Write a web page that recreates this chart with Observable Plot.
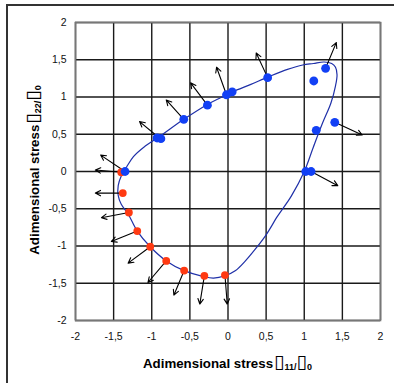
<!DOCTYPE html>
<html>
<head>
<meta charset="utf-8">
<script src="https://cdn.jsdelivr.net/npm/d3@7"></script>
<script src="https://cdn.jsdelivr.net/npm/@observablehq/plot@0.6"></script>
<style>
  html, body { margin: 0; padding: 0; background: #fff; }
  #wrap { position: relative; width: 394px; height: 383px; overflow: hidden; }
  #frame { position: absolute; left: 6px; top: 4px; width: 600px; height: 600px;
           border-left: 2px solid #333; border-top: 2px solid #333; }
  #chart { position: absolute; left: 0; top: 0; }
</style>
</head>
<body>
<div id="wrap"><div id="frame"></div><div id="chart"></div></div>
<script>
// ---- data ----
const ticks = [-2, -1.5, -1, -0.5, 0, 0.5, 1, 1.5, 2];

const blueX = [-1.35, -0.93, -0.88, -0.58, -0.27, -0.02, 0.055, 0.52, 1.28, 1.125, 1.40, 1.157, 1.02, 1.09];
const blueY = [0.00, 0.45, 0.44, 0.70, 0.89, 1.03, 1.07, 1.26, 1.385, 1.215, 0.66, 0.553, 0.00, 0.00];

const redX = [-1.40, -1.38, -1.30, -1.19, -1.02, -0.81, -0.575, -0.31, -0.04];
const redY = [-0.01, -0.29, -0.55, -0.80, -1.01, -1.20, -1.33, -1.40, -1.39];

// arrows: start (point) and tip
const arrowX1 = [-1.40, -1.38, -1.30, -1.19, -1.02, -0.81, -0.575, -0.31, -0.04,
                 -1.35, -0.90, -0.58, -0.27, -0.02, 0.52, 1.28, 1.40, 1.09];
const arrowY1 = [-0.01, -0.29, -0.55, -0.80, -1.01, -1.20, -1.33, -1.40, -1.39,
                 0.00, 0.45, 0.70, 0.89, 1.03, 1.26, 1.385, 0.66, 0.00];
const arrowX2 = [-1.74, -1.74, -1.66, -1.53, -1.31, -1.05, -0.71, -0.37, -0.01,
                 -1.67, -1.16, -0.81, -0.49, -0.15, 0.37, 1.42, 1.76, 1.44];
const arrowY2 = [0.02, -0.29, -0.62, -0.94, -1.23, -1.49, -1.66, -1.78, -1.78,
                 0.22, 0.67, 0.96, 1.19, 1.40, 1.59, 1.73, 0.49, -0.19];

// closed yield-like curve
const curveX = [-0.19, -0.04, 0.10, 0.22, 0.36, 0.50, 0.65, 0.83, 1.00, 1.12, 1.24, 1.35, 1.41, 1.43, 1.41, 1.36, 1.26, 1.12, 0.98, 0.78, 0.53, 0.30, 0.06, -0.10, -0.27, -0.58, -0.91, -1.10, -1.24, -1.33, -1.40, -1.44, -1.44, -1.40, -1.31, -1.19, -1.02, -0.81, -0.575, -0.32];
const curveY = [-1.43, -1.40, -1.33, -1.21, -1.04, -0.85, -0.60, -0.33, 0.00, 0.33, 0.65, 0.92, 1.15, 1.30, 1.40, 1.45, 1.47, 1.45, 1.43, 1.37, 1.27, 1.17, 1.07, 0.99, 0.90, 0.70, 0.46, 0.33, 0.20, 0.06, -0.06, -0.19, -0.32, -0.44, -0.57, -0.80, -1.01, -1.20, -1.33, -1.41];

// ---- build tables ----
const blue = blueX.map((x, i) => ({x, y: blueY[i]}));
const red = redX.map((x, i) => ({x, y: redY[i]}));
const arrows = arrowX1.map((x1, i) => ({x1, y1: arrowY1[i], x2: arrowX2[i], y2: arrowY2[i]}));
const curve = curveX.map((x, i) => ({x, y: curveY[i]}));

const fmt = d => String(d).replace(".", ",");

const svg = Plot.plot({
  width: 394,
  height: 383,
  marginLeft: 75,
  marginRight: 14,
  marginTop: 22,
  marginBottom: 63,
  style: {fontFamily: "'Liberation Sans', Arial, sans-serif", fontSize: "10.5px", color: "#111", background: "transparent", overflow: "visible"},
  x: {domain: [-2, 2]},
  y: {domain: [-2, 2]},
  marks: [
    Plot.gridX(ticks, {stroke: "#1a1a1a", strokeWidth: 1.4, strokeOpacity: 1}),
    Plot.gridY(ticks, {stroke: "#1a1a1a", strokeWidth: 1.4, strokeOpacity: 1}),
    Plot.frame({stroke: "#777", strokeWidth: 1.6}),
    Plot.axisX({ticks, tickFormat: fmt, tickSize: 0, tickPadding: 12, label: null}),
    Plot.axisY({ticks, tickFormat: fmt, tickSize: 0, tickPadding: 9, label: null}),
    Plot.line(curve, {x: "x", y: "y", curve: "catmull-rom-closed", stroke: "#1f30a8", strokeWidth: 1.2}),
    Plot.arrow(arrows, {x1: "x1", y1: "y1", x2: "x2", y2: "y2", stroke: "#000", strokeWidth: 1.1, headLength: 8, headAngle: 55}),
    Plot.dot(red, {x: "x", y: "y", r: 3.9, fill: "#ff3a12", stroke: "none"}),
    Plot.dot(blue, {x: "x", y: "y", r: 4.4, fill: "#1240f5", stroke: "none"})
  ]
});

// axis titles (text with sub-scripts)
const s = d3.select(svg);
function title(g) {
  g.attr("font-family", "'Liberation Sans', Arial, sans-serif")
   .attr("font-weight", "bold")
   .attr("font-size", "13.3px")
   .attr("fill", "#000")
   .attr("text-anchor", "middle");
}
function fill(t, sub) {
  t.append("tspan").text("Adimensional stress");
  t.append("tspan").attr("font-family", "'DejaVu Sans'").attr("font-weight", "bold").attr("font-size", "19px").attr("dx", "1").text("▯");
  t.append("tspan").attr("font-size", "9px").attr("dy", "2").text(sub);
  t.append("tspan").attr("font-family", "'DejaVu Sans'").attr("font-weight", "bold").attr("font-size", "19px").attr("dy", "-2").text("▯");
  t.append("tspan").attr("font-size", "9px").attr("dy", "2").text("0");
}
const tx = s.append("text").attr("x", 227.5).attr("y", 368).call(title);
fill(tx, "11/");
const ty = s.append("text").attr("transform", "translate(38.5,170) rotate(-90)").call(title);
fill(ty, "22/");

document.getElementById("chart").appendChild(svg);
</script>
</body>
</html>
